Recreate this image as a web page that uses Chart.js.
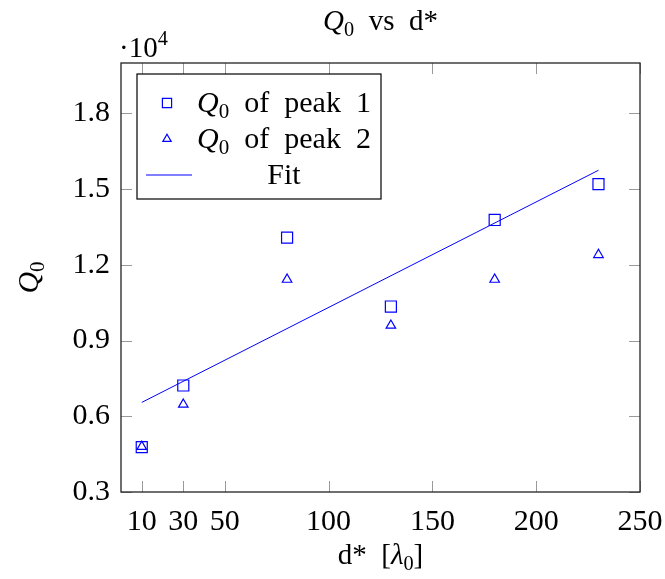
<!DOCTYPE html>
<html>
<head>
<meta charset="utf-8">
<script src="https://cdn.jsdelivr.net/npm/chart.js@4/dist/chart.umd.min.js"></script>
<style>
  body { margin: 0; background: #fff; }
  canvas { display: block; }
</style>
</head>
<body>
<canvas id="chart" width="665" height="579"></canvas>
<script>
// values (y in raw units, axis shows them as x 10^4)
var dStar = [10, 30, 80, 130, 180, 230];
var qPeak1 = [4780, 7220, 13080, 10350, 13780, 15200];
var qPeak2 = [4800, 6470, 11420, 9600, 11420, 12400];
var fitX = [10, 230];
var fitY = [6550, 15750];
var xTicks = [10, 30, 50, 100, 150, 200, 250];
var yTicks = [3000, 6000, 9000, 12000, 15000, 18000];

var BLUE = '#0000ff';
var FONT = '"Liberation Serif", "DejaVu Serif", serif';

function pts(xs, ys) {
  return xs.map(function (x, i) { return { x: x, y: ys[i] }; });
}

// draw a run of text pieces (italic / subscript / superscript)
function richWidth(ctx, parts, size) {
  var w = 0;
  parts.forEach(function (p) {
    var s = (p.sub || p.sup) ? size * 0.7 : size;
    ctx.font = (p.it ? 'italic ' : '') + s + 'px ' + FONT;
    w += ctx.measureText(p.t).width;
  });
  return w;
}
function drawRich(ctx, parts, x, y, size, align) {
  var w = richWidth(ctx, parts, size);
  var cx = align === 'center' ? x - w / 2 : x;
  ctx.textAlign = 'left';
  ctx.textBaseline = 'alphabetic';
  parts.forEach(function (p) {
    var s = (p.sub || p.sup) ? size * 0.7 : size;
    var dy = p.sub ? size * 0.2 : (p.sup ? -size * 0.42 : 0);
    ctx.font = (p.it ? 'italic ' : '') + s + 'px ' + FONT;
    ctx.fillText(p.t, cx, y + dy);
    cx += ctx.measureText(p.t).width;
  });
}

// pgfplots style frame with inward ticks on all four sides
var framePlugin = {
  id: 'frame',
  afterDatasetsDraw: function (chart) {
    var ctx = chart.ctx, a = chart.chartArea;
    var xs = chart.scales.x, ys = chart.scales.y;
    var len = 11;
    ctx.save();
    ctx.strokeStyle = '#9a9a9a';
    ctx.lineWidth = 1;
    ctx.beginPath();
    xTicks.forEach(function (v) {
      var px = Math.round(xs.getPixelForValue(v)) + 0.5;
      ctx.moveTo(px, a.bottom); ctx.lineTo(px, a.bottom - len);
      ctx.moveTo(px, a.top); ctx.lineTo(px, a.top + len);
    });
    yTicks.forEach(function (v) {
      var py = Math.round(ys.getPixelForValue(v)) + 0.5;
      ctx.moveTo(a.left, py); ctx.lineTo(a.left + len, py);
      ctx.moveTo(a.right, py); ctx.lineTo(a.right - len, py);
    });
    ctx.stroke();
    ctx.strokeStyle = '#222';
    ctx.lineWidth = 1.3;
    ctx.strokeRect(a.left, a.top, a.right - a.left, a.bottom - a.top);
    ctx.restore();
  }
};

var labelsPlugin = {
  id: 'labels',
  afterDraw: function (chart) {
    var ctx = chart.ctx, a = chart.chartArea;
    var mid = (a.left + a.right) / 2;
    ctx.save();
    ctx.fillStyle = '#000';

    // title
    drawRich(ctx, [{ t: 'Q', it: true }, { t: '0', sub: true }, { t: '  vs  d*' }], mid, 30, 29, 'center');
    // x axis label
    drawRich(ctx, [{ t: 'd*  [' }, { t: 'λ', it: true }, { t: '0', sub: true }, { t: ']' }], mid, 564, 29, 'center');
    // multiplier
    drawRich(ctx, [{ t: '·10' }, { t: '4', sup: true }], 119, 57, 29, 'left');
    // y axis label, rotated
    ctx.save();
    ctx.translate(38, (a.top + a.bottom) / 2);
    ctx.rotate(-Math.PI / 2);
    drawRich(ctx, [{ t: 'Q', it: true }, { t: '0', sub: true }], 0, 0, 30, 'center');
    ctx.restore();

    // legend
    var bx = 137, by = 74, bw = 244, bh = 125;
    ctx.fillStyle = '#fff';
    ctx.fillRect(bx, by, bw, bh);
    ctx.strokeStyle = '#000';
    ctx.lineWidth = 1.2;
    ctx.strokeRect(bx, by, bw, bh);
    var rows = [103, 139, 175];
    ctx.strokeStyle = BLUE;
    ctx.lineWidth = 1.2;
    Chart.helpers.drawPoint(ctx, { pointStyle: 'rect', radius: 6.5, rotation: 0, borderWidth: 1.2 }, 167, rows[0]);
    Chart.helpers.drawPoint(ctx, { pointStyle: 'triangle', radius: 4.8, rotation: 0, borderWidth: 1.2 }, 167, rows[1]);
    ctx.lineWidth = 1;
    ctx.beginPath();
    ctx.moveTo(146, rows[2]); ctx.lineTo(192, rows[2]);
    ctx.stroke();
    ctx.fillStyle = '#000';
    var tx = 284;
    drawRich(ctx, [{ t: 'Q', it: true }, { t: '0', sub: true }, { t: '  of  peak  1' }], tx, rows[0] + 9, 30, 'center');
    drawRich(ctx, [{ t: 'Q', it: true }, { t: '0', sub: true }, { t: '  of  peak  2' }], tx, rows[1] + 9, 30, 'center');
    drawRich(ctx, [{ t: 'Fit' }], tx, rows[2] + 9, 30, 'center');
    ctx.restore();
  }
};

new Chart(document.getElementById('chart'), {
  type: 'scatter',
  data: {
    datasets: [{
      label: 'Q0 of peak 1',
      data: pts(dStar, qPeak1),
      pointStyle: 'rect',
      pointRadius: 7.8,
      borderColor: BLUE,
      backgroundColor: 'rgba(0,0,0,0)',
      borderWidth: 1.2,
    }, {
      label: 'Q0 of peak 2',
      data: pts(dStar, qPeak2),
      pointStyle: 'triangle',
      pointRadius: 5.5,
      borderColor: BLUE,
      backgroundColor: 'rgba(0,0,0,0)',
      borderWidth: 1.2,
    }, {
      label: 'Fit',
      data: pts(fitX, fitY),
      showLine: true,
      pointRadius: 0,
      borderColor: BLUE,
      borderWidth: 1,
    }]
  },
  options: {
    responsive: false,
    animation: false,
    layout: { padding: { top: 63, right: 25, left: 0, bottom: 0 } },
    plugins: {
      legend: { display: false },
      tooltip: { enabled: false },
      title: { display: false },
    },
    scales: {
      x: {
        type: 'linear',
        min: 0,
        max: 250,
        afterBuildTicks: function (s) { s.ticks = xTicks.map(function (v) { return { value: v }; }); },
        afterFit: function (s) { s.height = 87; s.paddingLeft = 0; s.paddingRight = 0; },
        grid: { display: false, drawTicks: false },
        border: { display: false },
        ticks: {
          autoSkip: false,
          maxRotation: 0,
          padding: 12,
          color: '#000',
          font: { family: FONT, size: 30 },
        },
      },
      y: {
        min: 3000,
        max: 20000,
        afterBuildTicks: function (s) { s.ticks = yTicks.map(function (v) { return { value: v }; }); },
        afterFit: function (s) { s.width = 121; s.paddingTop = 0; s.paddingBottom = 0; },
        grid: { display: false, drawTicks: false },
        border: { display: false },
        ticks: {
          padding: 11,
          color: '#000',
          font: { family: FONT, size: 30 },
          callback: function (v) { return (v / 10000).toFixed(1); },
        },
      },
    }
  },
  plugins: [framePlugin, labelsPlugin]
});
</script>
</body>
</html>
